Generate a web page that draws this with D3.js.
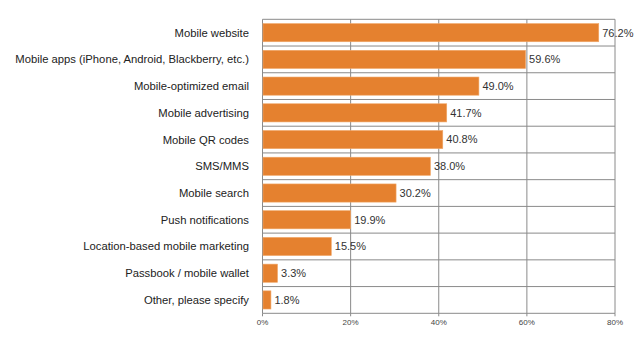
<!DOCTYPE html>
<html><head><meta charset="utf-8">
<script src="https://cdn.jsdelivr.net/npm/d3@7"></script>
<style>body{margin:0;background:#fff;}svg{display:block;}</style>
</head><body>
<script>
const categories = ["Mobile website","Mobile apps (iPhone, Android, Blackberry, etc.)","Mobile-optimized email","Mobile advertising","Mobile QR codes","SMS/MMS","Mobile search","Push notifications","Location-based mobile marketing","Passbook / mobile wallet","Other, please specify"];
const values = [76.2,59.6,49.0,41.7,40.8,38.0,30.2,19.9,15.5,3.3,1.8];
const tickValues = [0,20,40,60,80];

const W=643,H=341;
const m={left:262.5,right:643-615,top:19.3,bottom:341-313.3};
const svg=d3.select("body").append("svg").attr("width",W).attr("height",H);
const x=d3.scaleLinear().domain([0,80]).range([m.left,W-m.right]);
const y=d3.scaleBand().domain(categories).range([m.top,H-m.bottom]).paddingInner(0.32).paddingOuter(0.16);
const font="Liberation Sans, Arial, sans-serif";
const grid="#8a8a8a";

// horizontal row separators
const rowEdges=d3.range(categories.length+1).map(i=>m.top+i*((H-m.bottom-m.top)/categories.length));
svg.append("g").selectAll("line").data(rowEdges).join("line")
 .attr("x1",x(0)).attr("x2",x(80)).attr("y1",d=>d).attr("y2",d=>d)
 .attr("stroke",grid).attr("stroke-width",1);
// vertical gridlines
svg.append("g").selectAll("line").data(tickValues).join("line")
 .attr("x1",d=>x(d)).attr("x2",d=>x(d)).attr("y1",m.top).attr("y2",H-m.bottom)
 .attr("stroke",grid).attr("stroke-width",1);
// bottom tick marks
svg.append("g").selectAll("line").data(tickValues).join("line")
 .attr("x1",d=>x(d)).attr("x2",d=>x(d)).attr("y1",H-m.bottom).attr("y2",H-m.bottom+3)
 .attr("stroke",grid).attr("stroke-width",1);

// bars
svg.append("g").selectAll("rect").data(values).join("rect")
 .attr("x",x(0)+0.5).attr("y",(d,i)=>y(categories[i]))
 .attr("width",d=>x(d)-x(0)).attr("height",y.bandwidth())
 .attr("fill","#e5812f").attr("stroke","#f0a86a").attr("stroke-width",0.6);

// value labels
svg.append("g").selectAll("text").data(values).join("text")
 .attr("x",d=>x(d)+4).attr("y",(d,i)=>y(categories[i])+y.bandwidth()/2)
 .attr("dy","0.35em").attr("font-family",font).attr("font-size",11).attr("fill","#333")
 .text(d=>d.toFixed(1)+"%");

// category labels
svg.append("g").selectAll("text").data(categories).join("text")
 .attr("x",249).attr("y",d=>y(d)+y.bandwidth()/2)
 .attr("dy","0.35em").attr("text-anchor","end").attr("font-family",font).attr("font-size",11.25).attr("fill","#222")
 .text(d=>d);

// tick labels
svg.append("g").selectAll("text").data(tickValues).join("text")
 .attr("x",d=>x(d)).attr("y",325).attr("text-anchor","middle")
 .attr("font-family",font).attr("font-size",8).attr("fill","#444")
 .text(d=>d+"%");
</script>
</body></html>
